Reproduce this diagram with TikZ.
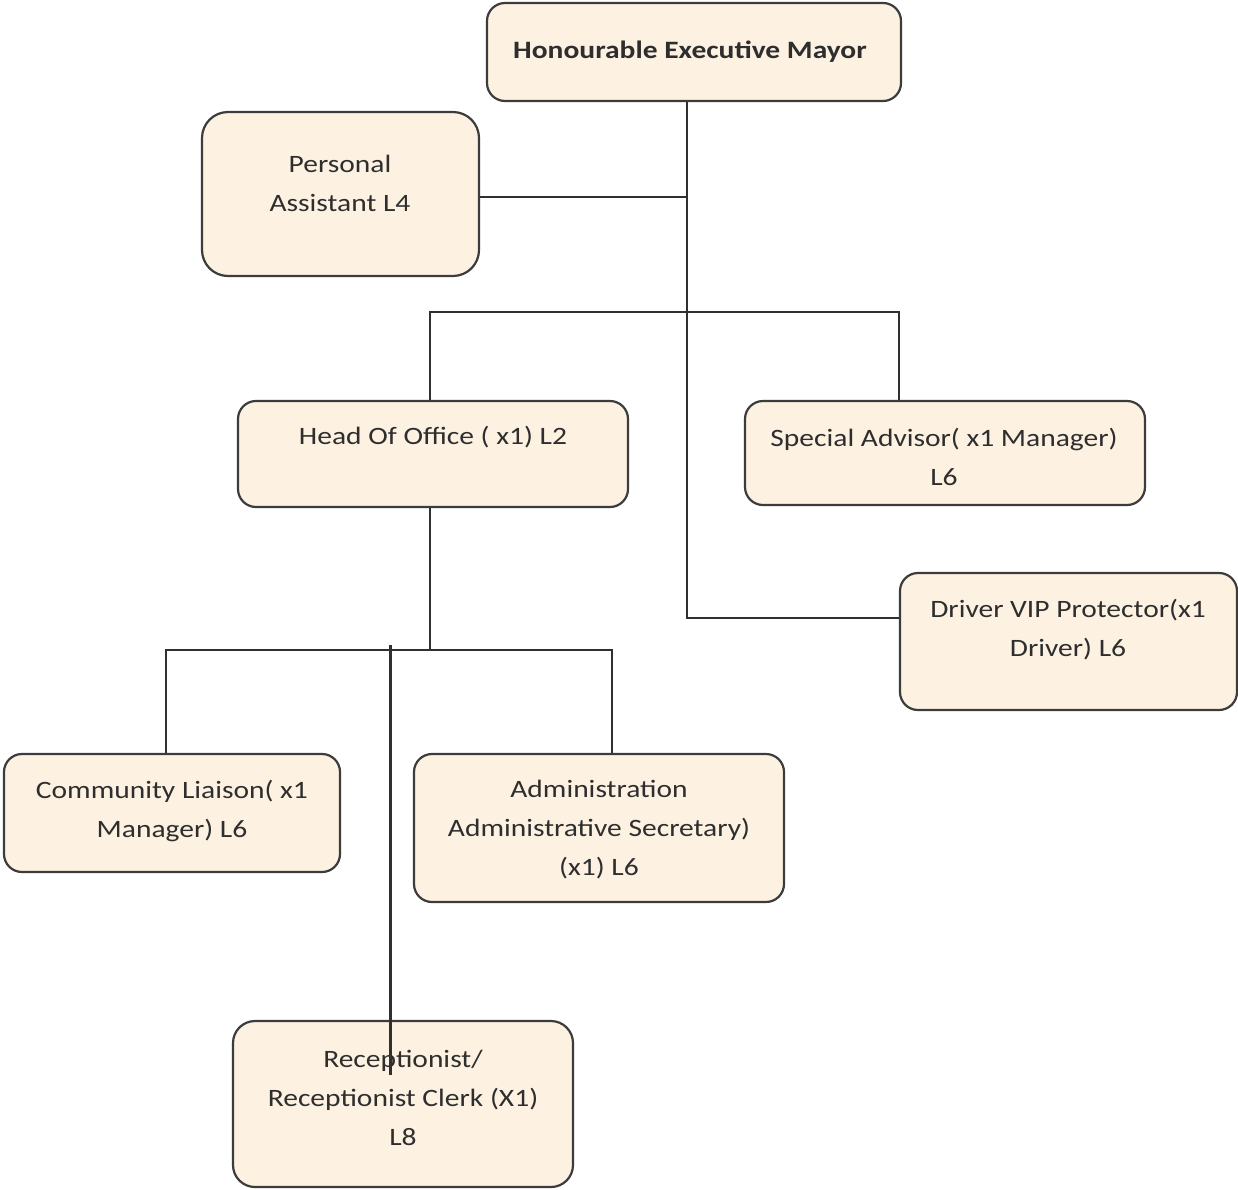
\documentclass[tikz,border=0pt]{standalone}
\usepackage{fontspec}
\setmainfont{Carlito}[FakeStretch=1.18]
\begin{document}
\begin{tikzpicture}[x=1pt,y=-1pt,
  box/.style={draw=boxline, fill=boxfill, line width=2.2pt, rounded corners=18pt, inner sep=0pt},
  lbl/.style={align=center, inner sep=0pt, text=txt, font=\fontsize{25}{39}\selectfont},
  link/.style={draw=linkc, line width=2.2pt}]
\definecolor{boxfill}{HTML}{FDF2E2}
\definecolor{boxline}{HTML}{3C3C3C}
\definecolor{linkc}{HTML}{303030}
\definecolor{txt}{HTML}{2E2E2E}
\useasboundingbox (0,0) rectangle (1238,1189);
\fill[white] (0,0) rectangle (1238,1189);

% boxes: centre (x,y), size w x h
\node[box, minimum width=414pt, minimum height=98pt]  (mayor) at (694,52) {};
\node[box, minimum width=277pt, minimum height=164pt, rounded corners=26pt] (pa) at (340.5,194) {};
\node[box, minimum width=390pt, minimum height=106pt] (head) at (433,454) {};
\node[box, minimum width=400pt, minimum height=104pt] (adv) at (945,453) {};
\node[box, minimum width=337pt, minimum height=137pt] (drv) at (1068.5,641.5) {};
\node[box, minimum width=336pt, minimum height=118pt] (com) at (172,813) {};
\node[box, minimum width=370pt, minimum height=148pt] (adm) at (599,828) {};
\node[box, minimum width=340pt, minimum height=166pt, rounded corners=22pt] (rec) at (403,1104) {};

% labels
\node[lbl, font=\fontsize{25}{39}\selectfont\bfseries] (mayor-t) at (690,52) {Honourable Executive Mayor};
\node[lbl] (pa-t) at (340,183.5) {Personal\\Assistant L4};
\node[lbl] (head-t) at (433,437) {Head Of Office ( x1) L2};
\node[lbl] (adv-t) at (944,456.5) {Special Advisor( x1 Manager)\\L6};
\node[lbl] (drv-t) at (1068,630) {Driver VIP Protector(x1\\Driver) L6};
\node[lbl] (com-t) at (172,810.5) {Community Liaison( x1\\Manager) L6};
\node[lbl] (adm-t) at (599,830) {Administration\\Administrative Secretary)\\(x1) L6};
\node[lbl] (rec-t) at (403,1097.5) {Receptionist/\\Receptionist Clerk (X1)\\L8};

% junction points
\coordinate (spine-pa) at (687,197);
\coordinate (spine-end) at (687,618);
\coordinate (barL) at (430,312);
\coordinate (barR) at (899,312);
\coordinate (hbar) at (430,650);
\coordinate (hbarL) at (166,650);
\coordinate (hbarR) at (612,650);
\coordinate (recTop) at (390,645);
\coordinate (recEnd) at (390,1075);

% connectors
\draw[link] (mayor.south -| spine-pa) -- (spine-end) -- (spine-end -| drv.west);
\draw[link] (pa.east |- spine-pa) -- (spine-pa);
\draw[link] (head.north -| barL) -- (barL) -- (barR) -- (adv.north -| barR);
\draw[link] (head.south -| hbar) -- (hbar);
\draw[link] (com.north -| hbarL) -- (hbarL) -- (hbarR) -- (adm.north -| hbarR);
\draw[link, line width=3pt] (recTop) -- (recEnd);
\end{tikzpicture}
\end{document}
